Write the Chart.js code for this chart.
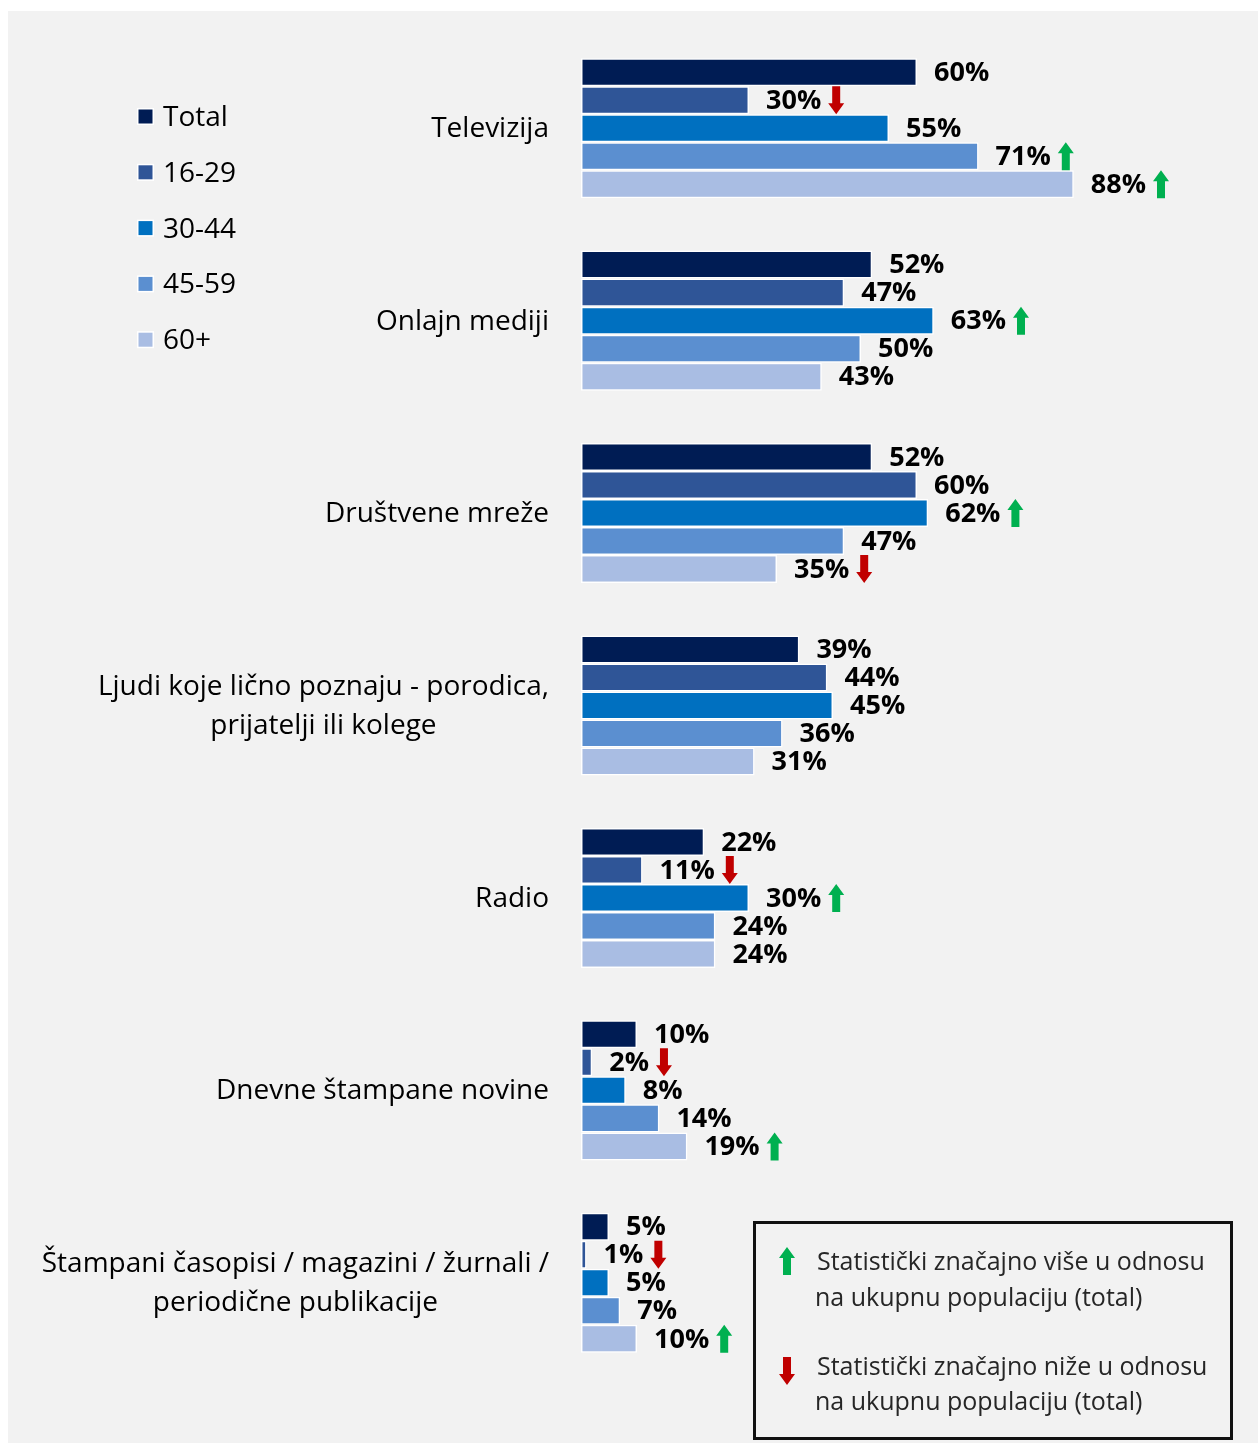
<!DOCTYPE html>
<html><head><meta charset="utf-8">
<script src="https://cdn.jsdelivr.net/npm/chart.js@4/dist/chart.umd.min.js"></script>
<style>html,body{margin:0;padding:0;background:#fff;}#wrap{position:relative;width:1258px;height:1445px;}</style>
</head><body><div id="wrap"><canvas id="c" width="1258" height="1445"></canvas></div>
<script>
const categories = ["Televizija","Onlajn mediji","Društvene mreže",["Ljudi koje lično poznaju - porodica,","prijatelji ili kolege"],"Radio","Dnevne štampane novine",["Štampani časopisi / magazini / žurnali /","periodične publikacije"]];
const seriesNames = ["Total","16-29","30-44","45-59","60+"];
const totalValues = [60,52,52,39,22,10,5];
const age16_29 = [30,47,60,44,11,2,1];
const age30_44 = [55,63,62,45,30,8,5];
const age45_59 = [71,50,47,36,24,14,7];
const age60plus = [88,43,35,31,24,19,10];
// significance vs total: 1 = higher, -1 = lower, 0 = none
const sigTotal = [0,0,0,0,0,0,0];
const sig16_29 = [-1,0,0,0,-1,-1,-1];
const sig30_44 = [0,1,1,0,1,0,0];
const sig45_59 = [1,0,0,0,0,0,0];
const sig60plus = [1,0,-1,0,0,1,1];
const seriesColors = ["#001c54","#2f5597","#0070c0","#5b8fd0","#a9bde3"];
const noteHigher = ["Statistički značajno više u odnosu","na ukupnu populaciju (total)"];
const noteLower = ["Statistički značajno niže u odnosu","na ukupnu populaciju (total)"];

const seriesValues = [totalValues, age16_29, age30_44, age45_59, age60plus];
const seriesSig = [sigTotal, sig16_29, sig30_44, sig45_59, sig60plus];
const GREEN = "#00b050", RED = "#c00000";
const FONT = "'Open Sans', 'Noto Sans', sans-serif";

function drawArrow(ctx, x, cy, dir, color) {
  const w = 16, h = 28, sw = 8, hh = 11;
  const top = cy - h/2, bot = cy + h/2, cx = x + w/2;
  ctx.save();
  ctx.fillStyle = color;
  ctx.beginPath();
  if (dir > 0) {
    ctx.moveTo(cx, top);
    ctx.lineTo(x + w, top + hh);
    ctx.lineTo(cx + sw/2, top + hh);
    ctx.lineTo(cx + sw/2, bot);
    ctx.lineTo(cx - sw/2, bot);
    ctx.lineTo(cx - sw/2, top + hh);
    ctx.lineTo(x, top + hh);
  } else {
    ctx.moveTo(cx, bot);
    ctx.lineTo(x + w, bot - hh);
    ctx.lineTo(cx + sw/2, bot - hh);
    ctx.lineTo(cx + sw/2, top);
    ctx.lineTo(cx - sw/2, top);
    ctx.lineTo(cx - sw/2, bot - hh);
    ctx.lineTo(x, bot - hh);
  }
  ctx.closePath();
  ctx.fill();
  ctx.restore();
}

const bgPlugin = {
  id: 'bg',
  beforeDraw(chart) {
    const ctx = chart.ctx;
    ctx.save();
    ctx.fillStyle = '#fff';
    ctx.fillRect(0, 0, chart.width, chart.height);
    ctx.fillStyle = '#f2f2f2';
    ctx.fillRect(8, 11, 1250, 1432);
    ctx.restore();
  }
};

const labelPlugin = {
  id: 'labels',
  afterDatasetsDraw(chart) {
    const ctx = chart.ctx;
    ctx.save();
    ctx.font = "bold 27px " + FONT;
    ctx.fillStyle = '#000';
    ctx.textBaseline = 'middle';
    ctx.textAlign = 'left';
    chart.data.datasets.forEach((ds, di) => {
      const meta = chart.getDatasetMeta(di);
      meta.data.forEach((bar, i) => {
        const txt = ds.data[i] + '%';
        const tx = bar.x + 17;
        ctx.fillText(txt, tx, bar.y + 1);
        const s = seriesSig[di][i];
        if (s !== 0) {
          const w = ctx.measureText(txt).width;
          drawArrow(ctx, tx + w + 7, bar.y, s, s > 0 ? GREEN : RED);
        }
      });
    });
    ctx.restore();
  },
  afterDraw(chart) {
    const ctx = chart.ctx;
    ctx.save();
    // category labels from the y scale: block right-aligned, lines centred
    const ys = chart.scales.y;
    ctx.font = "28px " + FONT;
    ctx.fillStyle = '#000';
    ctx.textBaseline = 'middle';
    ctx.textAlign = 'center';
    const right = chart.chartArea.left - 32;
    chart.data.labels.forEach((lab, i) => {
      const lines = Array.isArray(lab) ? lab : [lab];
      const maxW = Math.max(...lines.map(l => ctx.measureText(l).width));
      const cx = right - maxW / 2;
      const cy = ys.getPixelForTick(i) + 1;
      const lh = 39;
      lines.forEach((l, k) => {
        ctx.fillText(l, cx, cy + (k - (lines.length - 1) / 2) * lh);
      });
    });
    // series legend
    ctx.font = "28px " + FONT;
    ctx.textAlign = 'left';
    chart.data.datasets.forEach((ds, i) => {
      const y = 117 + i * 55.8;
      ctx.fillStyle = '#fff';
      ctx.fillRect(137, y - 9, 17, 17);
      ctx.fillStyle = ds.backgroundColor;
      ctx.fillRect(138.5, y - 7.5, 14, 14);
      ctx.fillStyle = '#000';
      ctx.fillText(ds.label, 163, y + 1);
    });
    // significance legend box
    ctx.strokeStyle = '#111';
    ctx.lineWidth = 3;
    ctx.strokeRect(754.5, 1222.5, 477, 216);
    ctx.font = "25px " + FONT;
    ctx.fillStyle = '#262626';
    ctx.fillText(noteHigher[0], 817, 1263);
    ctx.fillText(noteHigher[1], 815, 1299);
    ctx.fillText(noteLower[0], 817, 1368);
    ctx.fillText(noteLower[1], 815, 1403);
    drawArrow(ctx, 779, 1261, 1, GREEN);
    drawArrow(ctx, 779, 1371, -1, RED);
    ctx.restore();
  }
};

new Chart(document.getElementById('c'), {
  type: 'bar',
  data: {
    labels: categories,
    datasets: seriesNames.map((n, i) => ({
      label: n,
      data: seriesValues[i],
      backgroundColor: seriesColors[i],
      borderColor: '#ffffff',
      borderWidth: 1.5,
      borderSkipped: false,
      categoryPercentage: 0.728,
      barPercentage: 1
    }))
  },
  options: {
    indexAxis: 'y',
    responsive: false,
    animation: false,
    devicePixelRatio: 1,
    layout: { padding: { top: 32, bottom: 66, right: 117, left: 0 } },
    plugins: { legend: { display: false }, tooltip: { enabled: false } },
    scales: {
      x: { display: false, min: 0, max: 100 },
      y: {
        grid: { display: false, drawTicks: false },
        border: { display: false },
        ticks: { display: false },
        afterFit(scale) { scale.width = 581; scale.paddingTop = 0; scale.paddingBottom = 0; }
      }
    }
  },
  plugins: [bgPlugin, labelPlugin]
});
</script>
</body></html>
